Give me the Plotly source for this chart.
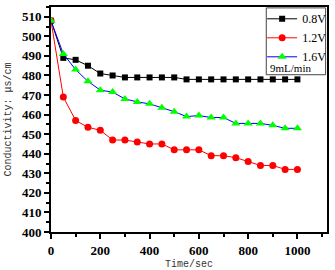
import plotly.graph_objects as go

# Time points (sec)
time_sec = [0, 50, 100, 150, 200, 250, 300, 350, 400, 450, 500,
            550, 600, 650, 700, 750, 800, 850, 900, 950, 1000]

# Conductivity (us/cm) at each voltage
cond_08v = [508, 489, 488, 485, 481, 480, 479, 479, 479, 479, 479,
            478, 478, 478, 478, 478, 478, 478, 478, 478, 478]
cond_12v = [508, 469, 457, 453.5, 452, 447, 447, 446, 445, 445, 442,
            442, 442, 439, 439, 438, 436, 434, 434, 432, 432]
cond_16v = [508, 491, 483, 477, 472.5, 471.5, 468, 466.5, 465.5, 463.5, 461.5,
            459, 459.5, 458.5, 458.5, 455.5, 455.5, 455.5, 454.5, 453, 453]

series_names = ["0.8V", "1.2V", "1.6V"]
flow_note = "9mL/min"

fig = go.Figure()
fig.add_trace(go.Scatter(x=time_sec, y=cond_08v, name=series_names[0], mode="lines+markers",
                         line=dict(color="black", width=1),
                         marker=dict(symbol="square", size=6, color="black")))
fig.add_trace(go.Scatter(x=time_sec, y=cond_12v, name=series_names[1], mode="lines+markers",
                         line=dict(color="red", width=1),
                         marker=dict(symbol="circle", size=7, color="red")))
fig.add_trace(go.Scatter(x=time_sec, y=cond_16v, name=series_names[2], mode="lines+markers",
                         line=dict(color="blue", width=1),
                         marker=dict(symbol="triangle-up", size=8, color="#00ff00")))

serif = "Liberation Serif"
mono = "Liberation Mono"

fig.update_layout(
    width=335, height=270,
    margin=dict(l=51, r=4, t=7, b=38),
    paper_bgcolor="white", plot_bgcolor="white",
    showlegend=True,
    legend=dict(x=0.765, y=1.012, xanchor="left", yanchor="top",
                bgcolor="rgba(0,0,0,0)", borderwidth=0,
                font=dict(family=serif, size=12, color="black"),
                itemwidth=30, tracegroupgap=0),
    shapes=[dict(type="rect", xref="paper", yref="paper",
                 x0=0.78, x1=0.995, y0=0.699, y1=0.996,
                 line=dict(color="#444", width=1))],
    annotations=[dict(text=flow_note, xref="paper", yref="paper",
                      x=0.785, y=0.765, xanchor="left", yanchor="top",
                      showarrow=False,
                      font=dict(family=serif, size=11, color="black"))],
)

fig.update_xaxes(range=[0, 1120], tickvals=[0, 200, 400, 600, 800, 1000],
                 ticks="outside", ticklen=5, tickwidth=1.5, tickcolor="black",
                 minor=dict(dtick=100, tick0=0, ticks="outside", ticklen=3, tickcolor="black"),
                 showline=True, linecolor="black", linewidth=2, mirror=True,
                 showgrid=False, zeroline=False, automargin=False,
                 tickfont=dict(family=serif, size=13, color="black", weight="bold"),
                 title=dict(text="Time/sec", font=dict(family=mono, size=10, color="#333"),
                            standoff=6))
fig.update_yaxes(range=[400, 515], dtick=10, tick0=400,
                 ticks="outside", ticklen=5, tickwidth=1.5, tickcolor="black",
                 minor=dict(dtick=5, ticks="outside", ticklen=3, tickcolor="black"),
                 showline=True, linecolor="black", linewidth=2, mirror=True,
                 showgrid=False, zeroline=False, automargin=False,
                 tickfont=dict(family=serif, size=13, color="black", weight="bold"),
                 title=dict(text="Conductivity: μs/cm", font=dict(family=mono, size=10, color="#333"),
                            standoff=8))

# drop the browser's default page margin so the figure sits at the window corner
fig.write_html("out.html", config={"displayModeBar": False},
               post_script="document.body.style.margin='0';")
